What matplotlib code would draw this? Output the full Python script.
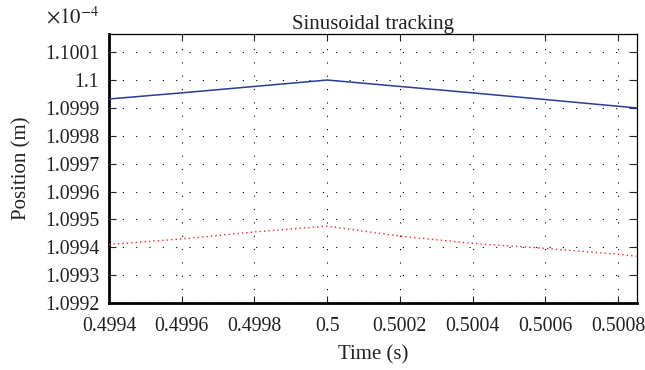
import numpy as np
import matplotlib.pyplot as plt

plt.rcParams['font.family'] = 'Liberation Serif'
plt.rcParams['mathtext.fontset'] = 'stix'

# datos (posicion en unidades de 1e-4 m)
t_ref = [0.4994, 0.4996, 0.4998, 0.5, 0.5002, 0.5004, 0.5006, 0.5008, 0.50085]
pos_ref = [1.099932, 1.099954, 1.099977, 1.1, 1.099977, 1.099954, 1.099930, 1.099906, 1.099900]
t_real = [0.4994, 0.4996, 0.4998, 0.5, 0.5002, 0.5004, 0.5006, 0.5008, 0.50085]
pos_real = [1.099410, 1.099430, 1.099455, 1.099476, 1.099440, 1.099414, 1.099396, 1.099375, 1.099368]

xticks = [0.4994, 0.4996, 0.4998, 0.5, 0.5002, 0.5004, 0.5006, 0.5008]
xtick_labels = ['0.4994', '0.4996', '0.4998', '0.5', '0.5002', '0.5004', '0.5006', '0.5008']
yticks = [1.0992, 1.0993, 1.0994, 1.0995, 1.0996, 1.0997, 1.0998, 1.0999, 1.1, 1.1001]
ytick_labels = ['1.0992', '1.0993', '1.0994', '1.0995', '1.0996', '1.0997', '1.0998', '1.0999', '1.1', '1.1001']

fig = plt.figure(figsize=(6.45, 3.7), dpi=100)
ax = fig.add_axes([0.169, 0.181, 0.8186, 0.727])

ax.plot(t_ref, pos_ref, color='#2a3d96', lw=1.1, zorder=3)
ax.plot(t_real, pos_real, color='#ff2020', lw=1.0, linestyle=(0, (1, 2.2)), zorder=3)

ax.set_xlim(0.49940, 0.500852)
ax.set_ylim(1.0992, 1.100165)
ax.set_xticks(xticks)
ax.set_xticklabels(xtick_labels)
ax.set_yticks(yticks)
ax.set_yticklabels(ytick_labels)

ax.grid(True, color='black', lw=0.8, linestyle=(0, (1, 11)))
ax.tick_params(direction='in', which='both', top=True, right=True, length=5,
               width=0.8, labelsize=14.3, colors='#222222')
ax.tick_params(axis='x', pad=10)
ax.tick_params(axis='y', pad=7)
for lado in ['top', 'right']:
    ax.spines[lado].set_linewidth(0.9)
for lado in ['left', 'bottom']:
    ax.spines[lado].set_linewidth(2.0)

ax.set_title('Sinusoidal tracking', fontsize=15, color='#222222', pad=3)
ax.set_xlabel('Time (s)', fontsize=15, color='#222222', labelpad=7)
ax.set_ylabel('Position (m)', fontsize=15, color='#222222', labelpad=10)
ax.text(-0.12, 1.02, r'$\times10^{-4}$', transform=ax.transAxes, fontsize=15,
        color='#222222', va='bottom', ha='left')

fig.savefig('out.png', dpi=100)
